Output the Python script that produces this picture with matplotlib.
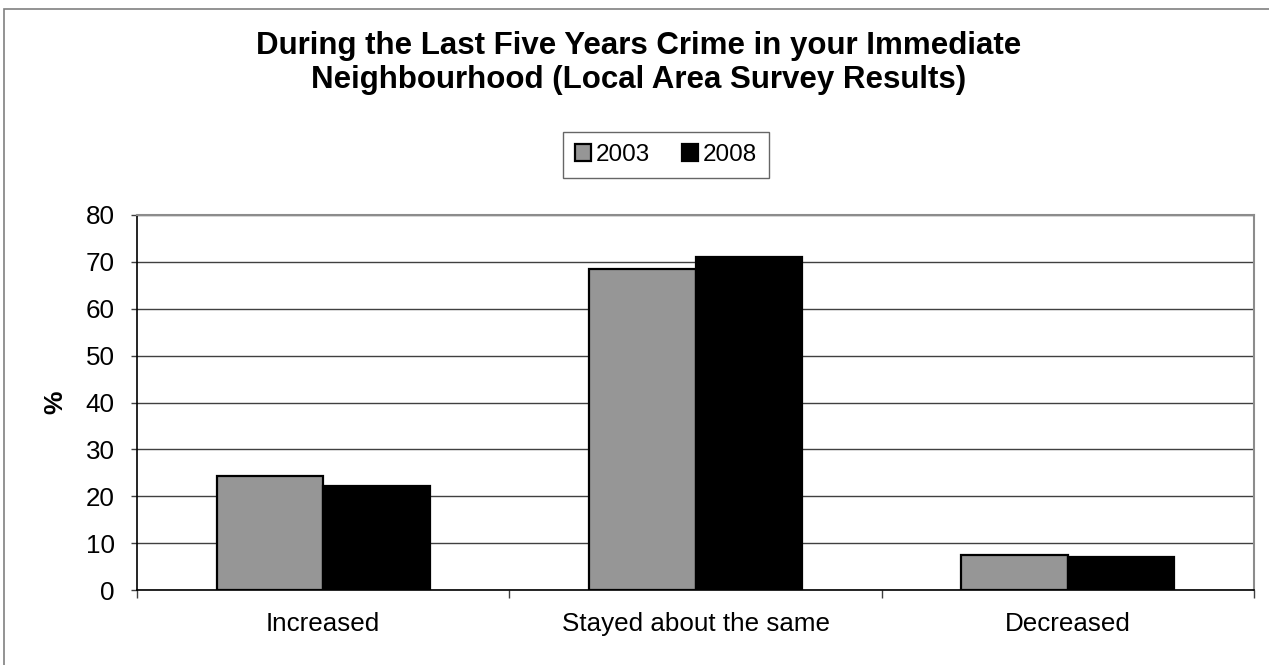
import matplotlib
matplotlib.use("Agg")
import matplotlib.pyplot as plt
import numpy as np
from matplotlib.patches import Rectangle

categories = ["Increased", "Stayed about the same", "Decreased"]
series_names = ["2003", "2008"]
values_2003 = [24.3, 68.4, 7.5]
values_2008 = [22.2, 71.0, 7.1]
yticks = [0, 10, 20, 30, 40, 50, 60, 70, 80]

plt.rcParams['font.family'] = ['Liberation Sans', 'DejaVu Sans']

W, H = 1269, 665
fig = plt.figure(figsize=(W / 100, H / 100), dpi=100)

# outer chart frame
fig.patches.append(Rectangle((4 / W, -0.1), 1.2, 1 - 9 / H + 0.1, transform=fig.transFigure,
                             fill=False, edgecolor='#808080', linewidth=1.2))

left, right, top, bottom = 137, 1254, 215, 590
ax = fig.add_axes([left / W, 1 - bottom / H, (right - left) / W, (bottom - top) / H])

x = np.arange(len(categories))
bw = 0.286
ax.bar(x - bw / 2, values_2003, width=bw, color='#969696', edgecolor='black', linewidth=1.6,
       label=series_names[0], zorder=3)
ax.bar(x + bw / 2, values_2008, width=bw, color='black', edgecolor='black', linewidth=1.6,
       label=series_names[1], zorder=3)

ax.set_xlim(-0.5, len(categories) - 0.5)
ax.set_ylim(0, 80)
ax.set_yticks(yticks)
ax.set_yticklabels([str(t) for t in yticks], fontsize=18.7)
ax.yaxis.grid(True, color='#404040', linewidth=1.0, zorder=0)
ax.set_axisbelow(True)

ax.set_xticks(x)
ax.set_xticklabels(categories, fontsize=18.7)
ax.tick_params(axis='x', length=0, pad=16)
ax.tick_params(axis='y', length=4, width=1, direction='out', pad=12, color='#404040')
ax.set_xticks(np.arange(-0.5, len(categories)), minor=True)
ax.tick_params(axis='x', which='minor', length=6, width=1, direction='out', color='#404040')

for s in ['top', 'right']:
    ax.spines[s].set_color('#8c8c8c')
    ax.spines[s].set_linewidth(1.5)
ax.spines['left'].set_color('black')
ax.spines['bottom'].set_color('black')
ax.spines['left'].set_linewidth(1.2)
ax.spines['bottom'].set_linewidth(1.2)

ax.set_ylabel('%', fontsize=19, fontweight='bold', labelpad=13)

fig.text(0.503, 1 - 63 / H,
         "During the Last Five Years Crime in your Immediate\nNeighbourhood (Local Area Survey Results)",
         ha='center', va='center', fontsize=22.5, fontweight='bold', linespacing=1.2)

leg = fig.legend(loc='center', bbox_to_anchor=(666 / W, 1 - 155 / H), ncol=2, fontsize=17.5,
                 frameon=True, fancybox=False, edgecolor='#404040', handlelength=0.65,
                 handleheight=0.65, handletextpad=0.2, columnspacing=1.3, borderpad=0.5)
leg.get_frame().set_linewidth(1.0)

fig.savefig("out.png", dpi=100)
